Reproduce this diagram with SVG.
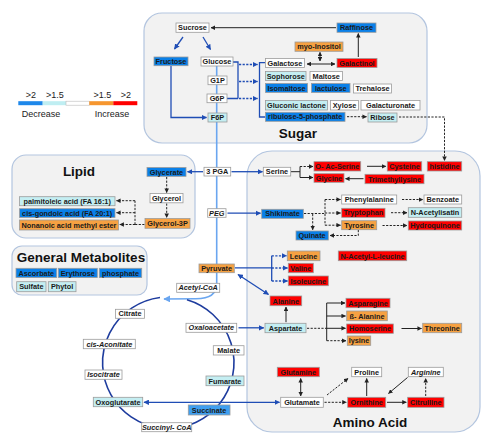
<svg xmlns="http://www.w3.org/2000/svg" width="492" height="444" viewBox="0 0 492 444">
<defs>
<style>
.reg{fill:#f2f2f2;stroke:#b3c5df;stroke-width:1.2}
.n rect{stroke:#9c9c9c;stroke-width:0.8}
.w{fill:#ffffff}.c{fill:#c4eef2}.bl{fill:#0a80e8}.o{fill:#f6a142}.r{fill:#ff0000}.sb{fill:#3f9ff0}
.n text{font-family:"Liberation Sans",Arial,sans-serif;font-size:7.3px;font-weight:bold;fill:#1a1a1a;text-anchor:middle}
.n text.i{font-style:italic}
.title{font-family:"Liberation Sans",Arial,sans-serif;font-weight:bold;font-size:13.5px;fill:#111;text-anchor:middle}
.lg{font-family:"Liberation Sans",Arial,sans-serif;font-size:9px;fill:#222;text-anchor:middle}
.cb{fill:none;stroke:#1f4db5;stroke-width:1.3}
.ck{fill:none;stroke:#222;stroke-width:1}
.d{stroke-dasharray:2.2,1.4}
</style>
<marker id="ab" viewBox="0 0 10 10" refX="9" refY="5" markerWidth="5.5" markerHeight="5.5" markerUnits="userSpaceOnUse" orient="auto-start-reverse"><path d="M0,0 L10,5 L0,10 z" fill="#1f4db5"/></marker>
<marker id="ak" viewBox="0 0 10 10" refX="9" refY="5" markerWidth="4.5" markerHeight="4.5" markerUnits="userSpaceOnUse" orient="auto-start-reverse"><path d="M0,0 L10,5 L0,10 z" fill="#222"/></marker>
<marker id="al" viewBox="0 0 10 10" refX="9" refY="5" markerWidth="7" markerHeight="7" markerUnits="userSpaceOnUse" orient="auto-start-reverse"><path d="M0,0 L10,5 L0,10 z" fill="#6aa6f0"/></marker>
</defs>
<rect width="492" height="444" fill="#ffffff"/>

<g id="regions">
<rect class="reg" x="144" y="13" width="283" height="130" rx="18"/>
<rect class="reg" x="12" y="155" width="183" height="83" rx="14"/>
<rect class="reg" x="12" y="246" width="135" height="49" rx="10"/>
<rect class="reg" x="247" y="151" width="233" height="281" rx="25"/>
<text class="title" x="298" y="138">Sugar</text>
<text class="title" x="79" y="176">Lipid</text>
<text class="title" x="81" y="261.5">General Metabolites</text>
<text class="title" x="370" y="427">Amino Acid</text>
</g>

<g id="legend">
<rect x="18.3" y="101.2" width="24.4" height="4" fill="#1e88ea"/>
<rect x="42.7" y="101.2" width="23.3" height="4" fill="#bfeef2"/>
<rect x="66" y="101.2" width="23.3" height="4" fill="#ffffff" stroke="#bbb" stroke-width="0.6"/>
<rect x="89.3" y="101.2" width="24" height="4" fill="#f6962e"/>
<rect x="113.3" y="101.2" width="24" height="4" fill="#ff0000"/>
<text class="lg" x="31" y="98">&gt;2</text>
<text class="lg" x="55" y="98">&gt;1.5</text>
<text class="lg" x="102.3" y="98">&gt;1.5</text>
<text class="lg" x="126" y="98">&gt;2</text>
<text class="lg" x="41" y="116.5">Decrease</text>
<text class="lg" x="112" y="116.5">Increase</text>
</g>

<g id="connectors">
<!-- main glycolysis line -->
<path d="M216.7,66 V284 Q216.7,298.6 196,298.8 L164,299" fill="none" stroke="#6aa6f0" stroke-width="1.6" marker-end="url(#al)"/>
<!-- TCA cycle -->
<path d="M187,299.7 A65.7,65.7 0 1 1 160,297.5" fill="none" stroke="#1e3c9e" stroke-width="1.6"/>
<!-- sugar -->
<path class="ck" d="M336,27.7 H211" marker-end="url(#ak)"/>
<path class="cb" d="M183,37 L174.5,49" marker-end="url(#ab)"/>
<path class="cb" d="M203,37 L210.5,49.5" marker-end="url(#ab)"/>
<path class="ck" d="M320,52.3 V61" marker-start="url(#ak)" marker-end="url(#ak)"/>
<path class="ck" d="M307,64 H335" marker-start="url(#ak)" marker-end="url(#ak)"/>
<path class="ck" d="M358.3,57 V33.5" marker-end="url(#ak)"/>
<path class="cb" d="M171,66 V117.5 H206.5" marker-end="url(#ab)"/>
<path class="cb" d="M233,62 H238 V98.5 M227,98.5 H238"/>
<path class="cb d" d="M239,64.5 H257.5" marker-end="url(#ab)"/>
<path class="cb d" d="M239,81.5 H257.5" marker-end="url(#ab)"/>
<path class="cb d" d="M239,98.5 H257.5" marker-end="url(#ab)"/>
<path class="cb" d="M265,62.7 H259.5 V117 H265"/>
<path class="ck d" d="M347,116.7 H366.5" marker-end="url(#ak)"/>
<path class="ck d" d="M399,117 H444.5 V160.5" marker-end="url(#ak)"/>
<!-- middle -->
<path class="cb" d="M203,171.7 H187.5" marker-end="url(#ab)"/>
<path class="cb" d="M231.5,171.7 H262.5" marker-end="url(#ab)"/>
<path class="cb" d="M227.5,213.2 H260.5" marker-end="url(#ab)"/>
<!-- lipid -->
<path class="ck d" d="M166.7,177 V192.5" marker-end="url(#ak)"/>
<path class="ck d" d="M166.7,203.5 V217.5" marker-end="url(#ak)"/>
<path class="ck d" d="M144.5,224.5 H135 M135,200.7 V224.5"/>
<path class="ck d" d="M135,200.7 H116.5" marker-end="url(#ak)"/>
<path class="ck d" d="M135,212.7 H116.5" marker-end="url(#ak)"/>
<path class="ck d" d="M135,224.5 H119.8" marker-end="url(#ak)"/>
<!-- amino: serine -->
<path class="ck" d="M291,171.7 H300 M300,166.5 V177.5"/>
<path class="ck d" d="M300,166.5 H313" marker-end="url(#ak)"/>
<path class="ck" d="M300,177.5 H313" marker-end="url(#ak)"/>
<path class="ck" d="M367,166.3 H385.8" marker-end="url(#ak)"/>
<path class="ck" d="M363.5,178.7 H345.5" marker-end="url(#ak)"/>
<!-- shikimate -->
<path class="ck d" d="M304,213.5 H325 M325,199.5 V225.2"/>
<path class="ck d" d="M325,199.5 H340.5" marker-end="url(#ak)"/>
<path class="ck d" d="M325,213 H340.5" marker-end="url(#ak)"/>
<path class="ck d" d="M325,225.2 H340.5" marker-end="url(#ak)"/>
<path class="ck d" d="M312.7,214 V229.8" marker-end="url(#ak)"/>
<path class="ck d" d="M358.3,230 V235.5 H330" marker-end="url(#ak)"/>
<path class="ck d" d="M402,199.5 H422.8" marker-end="url(#ak)"/>
<path class="ck d" d="M391,212.7 H407" marker-end="url(#ak)"/>
<path class="ck d" d="M382.5,225.5 H407" marker-end="url(#ak)"/>
<!-- pyruvate -->
<path class="cb" d="M235,267.8 H271.7 M271.7,255.8 V281"/>
<path class="cb d" d="M271.7,255.8 H286.5" marker-end="url(#ab)"/>
<path class="cb d" d="M271.7,268 H287.5" marker-end="url(#ab)"/>
<path class="cb d" d="M271.7,281 H287.5" marker-end="url(#ab)"/>
<path class="cb" d="M238,274.5 L268.5,294.5" marker-start="url(#ab)" marker-end="url(#ab)"/>
<!-- aspartate -->
<path class="ck" d="M286,322.2 V307" marker-end="url(#ak)"/>
<path class="cb" d="M238.5,327.8 H263.8" marker-end="url(#ab)"/>
<path class="ck d" d="M307,328.3 H326.7"/>
<path class="ck" d="M326.7,303 V340.7"/>
<path class="ck" d="M326.7,303 H345" marker-end="url(#ak)"/>
<path class="ck" d="M326.7,316 H345.5" marker-end="url(#ak)"/>
<path class="ck" d="M326.7,328.3 H345.5" marker-end="url(#ak)"/>
<path class="ck d" d="M326.7,340.7 H346" marker-end="url(#ak)"/>
<path class="ck" d="M401.5,328.5 H421.5" marker-end="url(#ak)"/>
<!-- glutamate -->
<path class="ck" d="M300.7,378.5 V396" marker-start="url(#ak)" marker-end="url(#ak)"/>
<path class="ck d" d="M327,395 L348,378.5" marker-end="url(#ak)"/>
<path class="ck d" d="M324.5,402.3 H346.3" marker-end="url(#ak)"/>
<path class="ck" d="M366.7,396 V378.5" marker-end="url(#ak)"/>
<path class="ck" d="M407.5,377.5 L388.5,393.5" marker-end="url(#ak)"/>
<path class="ck" d="M387,402.3 H406.3" marker-end="url(#ak)"/>
<path class="ck d" d="M425.7,396 V378.5" marker-end="url(#ak)"/>
<path class="cb" d="M144,402.3 H279.5" marker-start="url(#ab)" marker-end="url(#ab)"/>
</g>

<!-- Sugar nodes -->
<g id="sucrose" class="n"><rect class="w" x="176" y="23" width="33" height="9.3"/><text x="192.5" y="30.3">Sucrose</text></g>
<g id="raffinose" class="n"><rect class="bl" x="337" y="23" width="39" height="9.3"/><text x="356.5" y="30.3">Raffinose</text></g>
<g id="myo-inositol" class="n"><rect class="o" x="295" y="42" width="48" height="9.3"/><text x="319" y="49.3">myo-Inositol</text></g>
<g id="fructose" class="n"><rect class="bl" x="154" y="57" width="34" height="8.7"/><text x="171" y="64">Fructose</text></g>
<g id="glucose" class="n"><rect class="w" x="201" y="57" width="32" height="9"/><text x="217" y="64.1">Glucose</text></g>
<g id="galactose" class="n"><rect class="w" x="265.5" y="58.5" width="39" height="9"/><text x="285" y="65.6">Galactose</text></g>
<g id="galactinol" class="n"><rect class="r" x="337" y="58.5" width="40" height="9"/><text x="357" y="65.6">Galactinol</text></g>
<g id="g1p" class="n"><rect class="w" x="208" y="76" width="19" height="8.7"/><text x="217.5" y="83">G1P</text></g>
<g id="sophorose" class="n"><rect class="c" x="265.5" y="71.5" width="40.5" height="9"/><text x="285.7" y="78.6">Sophorose</text></g>
<g id="maltose" class="n"><rect class="w" x="310" y="71.5" width="32.5" height="9"/><text x="326.2" y="78.6">Maltose</text></g>
<g id="g6p" class="n"><rect class="w" x="207" y="94" width="20" height="8.7"/><text x="217" y="101">G6P</text></g>
<g id="isomaltose" class="n"><rect class="bl" x="265.5" y="83.5" width="42" height="9"/><text x="286.5" y="90.6">Isomaltose</text></g>
<g id="lactulose" class="n"><rect class="bl" x="311.5" y="83.5" width="38.5" height="9"/><text x="330.7" y="90.6">lactulose</text></g>
<g id="trehalose" class="n"><rect class="w" x="353.5" y="84" width="38" height="9"/><text x="372.5" y="91.1">Trehalose</text></g>
<g id="gluconic-lactone" class="n"><rect class="c" x="265.5" y="100.5" width="62" height="9.5"/><text x="296.5" y="107.8">Gluconic lactone</text></g>
<g id="xylose" class="n"><rect class="w" x="330.5" y="100.5" width="28" height="9.5"/><text x="344.5" y="107.8">Xylose</text></g>
<g id="galacturonate" class="n"><rect class="w" x="361" y="100.5" width="59" height="9.5"/><text x="390.5" y="107.8">Galacturonate</text></g>
<g id="f6p" class="n"><rect class="c" x="208" y="113" width="19" height="9"/><text x="217.5" y="120.1">F6P</text></g>
<g id="ribulose-5-phosphate" class="n"><rect class="bl" x="265.5" y="112.3" width="79.5" height="9"/><text x="305.2" y="119.4">ribulose-5-phosphate</text></g>
<g id="ribose" class="n"><rect class="c" x="368" y="113" width="29" height="9"/><text x="382.5" y="120.1">Ribose</text></g>

<!-- Lipid nodes -->
<g id="glycerate" class="n"><rect class="bl" x="147" y="167.5" width="39" height="8.8"/><text x="166.5" y="174.5">Glycerate</text></g>
<g id="glycerol" class="n"><rect class="w" x="150" y="193.5" width="33" height="9.3"/><text x="166.5" y="200.8">Glycerol</text></g>
<g id="glycerol-3p" class="n"><rect class="o" x="145" y="218.5" width="45" height="9.8"/><text x="167.5" y="226">Glycerol-3P</text></g>
<g id="palmitoleic" class="n"><rect class="c" x="19.5" y="196.7" width="95.5" height="9"/><text x="67.2" y="203.8">palmitoleic acid (FA 16:1)</text></g>
<g id="cis-gondoic" class="n"><rect class="bl" x="19.5" y="208.7" width="95.5" height="8.7"/><text x="67.2" y="215.7">cis-gondoic acid (FA 20:1)</text></g>
<g id="nonanoic" class="n"><rect class="o" x="19.5" y="220" width="99" height="10"/><text x="69" y="227.6">Nonanoic acid methyl ester</text></g>

<!-- General metabolites -->
<g id="ascorbate" class="n"><rect class="bl" x="16" y="268.3" width="40.7" height="9.3"/><text x="36.3" y="275.6">Ascorbate</text></g>
<g id="erythrose" class="n"><rect class="bl" x="58.3" y="268.3" width="39" height="9.3"/><text x="77.8" y="275.6">Erythrose</text></g>
<g id="phosphate" class="n"><rect class="bl" x="99.3" y="268.3" width="42.4" height="9.3"/><text x="120.5" y="275.6">phosphate</text></g>
<g id="sulfate" class="n"><rect class="c" x="16.7" y="281.7" width="29.3" height="10"/><text x="31.3" y="289.3">Sulfate</text></g>
<g id="phytol" class="n"><rect class="c" x="48.3" y="281.7" width="27.7" height="10"/><text x="62.1" y="289.3">Phytol</text></g>

<!-- Central -->
<g id="pga3" class="n"><rect class="w" x="204" y="167.3" width="26.7" height="8.7"/><text x="217.3" y="174.3">3 PGA</text></g>
<g id="peg" class="n"><rect class="w" x="207.7" y="208.7" width="18.3" height="8.6"/><text class="i" x="216.8" y="215.6">PEG</text></g>
<g id="pyruvate" class="n"><rect class="o" x="199" y="264" width="35.3" height="8.7"/><text x="216.6" y="271">Pyruvate</text></g>
<g id="acetyl-coa" class="n"><rect class="w" x="176.7" y="283.3" width="43" height="9"/><text class="i" x="198.2" y="290.4">Acetyl-CoA</text></g>

<!-- Amino acid nodes -->
<g id="serine" class="n"><rect class="w" x="263.3" y="167.3" width="27.4" height="8.7"/><text x="277" y="174.3">Serine</text></g>
<g id="o-ac-serine" class="n"><rect class="r" x="314" y="161.7" width="46.7" height="9.3"/><text x="337.3" y="169">O- Ac-Serine</text></g>
<g id="cysteine" class="n"><rect class="r" x="387.3" y="161.7" width="34.4" height="9.3"/><text x="404.5" y="169">Cysteine</text></g>
<g id="histidine" class="n"><rect class="r" x="427.3" y="161.7" width="34.4" height="9.3"/><text x="444.5" y="169">histidine</text></g>
<g id="glycine" class="n"><rect class="r" x="314" y="173.7" width="30" height="8.6"/><text x="329" y="180.6">Glycine</text></g>
<g id="trimethyllysine" class="n"><rect class="r" x="365" y="174.3" width="59" height="9.4"/><text x="394.5" y="181.6">Trimethyllysine</text></g>
<g id="shikimate" class="n"><rect class="bl" x="261.7" y="209.3" width="41.6" height="9"/><text x="282.5" y="216.4">Shikimate</text></g>
<g id="quinate" class="n"><rect class="bl" x="296" y="231" width="32.3" height="9"/><text x="312.1" y="238.1">Quinate</text></g>
<g id="phenylalanine" class="n"><rect class="w" x="341.7" y="195" width="55" height="9"/><text x="369.2" y="202.1">Phenylalanine</text></g>
<g id="tryptophan" class="n"><rect class="r" x="341.7" y="208.3" width="43.3" height="9"/><text x="363.3" y="215.4">Tryptophan</text></g>
<g id="tyrosine" class="n"><rect class="o" x="341.7" y="220.7" width="35" height="9"/><text x="359.2" y="227.8">Tyrosine</text></g>
<g id="benzoate" class="n"><rect class="w" x="424" y="195" width="37.7" height="9"/><text x="442.8" y="202.1">Benzoate</text></g>
<g id="n-acetylisatin" class="n"><rect class="c" x="408.3" y="207.7" width="53.4" height="9.6"/><text x="435" y="215.1">N-Acetylisatin</text></g>
<g id="hydroquinone" class="n"><rect class="r" x="408.3" y="221" width="53.4" height="9"/><text x="435" y="228.1">Hydroquinone</text></g>
<g id="leucine" class="n"><rect class="o" x="287.3" y="251" width="32.7" height="9.7"/><text x="303.6" y="258.5">Leucine</text></g>
<g id="valine" class="n"><rect class="r" x="288.3" y="263.3" width="25" height="9.4"/><text x="300.8" y="270.6">Valine</text></g>
<g id="isoleucine" class="n"><rect class="r" x="288.3" y="276" width="40" height="9.7"/><text x="308.3" y="283.5">Isoleucine</text></g>
<g id="n-acetyl-l-leucine" class="n"><rect class="r" x="338.3" y="251" width="68.4" height="9.7"/><text x="372.5" y="258.5">N-Acetyl-L-leucine</text></g>
<g id="alanine" class="n"><rect class="r" x="270" y="296" width="31.7" height="9.7"/><text x="285.8" y="303.5">Alanine</text></g>
<g id="aspartate" class="n"><rect class="c" x="265" y="323.3" width="41" height="9.4"/><text x="285.5" y="330.6">Aspartate</text></g>
<g id="asparagine" class="n"><rect class="r" x="346" y="298.3" width="44" height="9.4"/><text x="368" y="305.6">Asparagine</text></g>
<g id="b-alanine" class="n"><rect class="o" x="346.7" y="311" width="40.6" height="9.7"/><text x="367" y="318.5">ß- Alanine</text></g>
<g id="homoserine" class="n"><rect class="r" x="346.7" y="324" width="46.6" height="9.3"/><text x="370" y="331.3">Homoserine</text></g>
<g id="lysine" class="n"><rect class="o" x="347.3" y="336" width="23.4" height="9.3"/><text x="359" y="343.3">lysine</text></g>
<g id="threonine" class="n"><rect class="o" x="422.7" y="323.3" width="39" height="9.4"/><text x="442.2" y="330.6">Threonine</text></g>
<g id="glutamine" class="n"><rect class="r" x="277.3" y="367.3" width="42" height="9.4"/><text x="298.3" y="374.6">Glutamine</text></g>
<g id="proline" class="n"><rect class="w" x="351.7" y="367.3" width="30" height="9.4"/><text x="366.7" y="374.6">Proline</text></g>
<g id="arginine" class="n"><rect class="w" x="408.3" y="367.3" width="35" height="9.4"/><text class="i" x="425.8" y="374.6">Arginine</text></g>
<g id="glutamate" class="n"><rect class="w" x="280.7" y="397.3" width="42.6" height="10"/><text x="302" y="404.9">Glutamate</text></g>
<g id="ornithine" class="n"><rect class="r" x="347.7" y="397.3" width="38" height="10"/><text x="366.7" y="404.9">Ornithine</text></g>
<g id="citrulline" class="n"><rect class="r" x="407.7" y="397.3" width="36.3" height="10"/><text x="425.8" y="404.9">Citrulline</text></g>

<!-- TCA nodes -->
<g id="citrate" class="n"><rect class="w" x="115.5" y="309.3" width="29" height="9"/><text x="130" y="316.4">Citrate</text></g>
<g id="oxaloacetate" class="n"><rect class="w" x="186" y="323.3" width="50.7" height="9"/><text class="i" x="211.3" y="330.4">Oxaloacetate</text></g>
<g id="cis-aconitate" class="n"><rect class="w" x="83.3" y="339.3" width="52" height="9.4"/><text class="i" x="109.3" y="346.6">cis-Aconitate</text></g>
<g id="malate" class="n"><rect class="w" x="213.3" y="345.7" width="30.7" height="9.3"/><text x="228.6" y="353">Malate</text></g>
<g id="isocitrate" class="n"><rect class="w" x="85" y="370" width="37" height="9.3"/><text class="i" x="103.5" y="377.3">Isocitrate</text></g>
<g id="fumarate" class="n"><rect class="c" x="206" y="376" width="38" height="9.7"/><text x="225" y="383.5">Fumarate</text></g>
<g id="oxoglutarate" class="n"><rect class="c" x="93.3" y="397.3" width="49.4" height="9.4"/><text x="118" y="404.6">Oxoglutarate</text></g>
<g id="succinate" class="n"><rect class="sb" x="188.3" y="405" width="41.7" height="10"/><text x="209.1" y="412.6">Succinate</text></g>
<g id="succinyl-coa" class="n"><rect class="w" x="141.7" y="422.7" width="50" height="9"/><text class="i" x="166.7" y="429.8">Succinyl- CoA</text></g>
</svg>
